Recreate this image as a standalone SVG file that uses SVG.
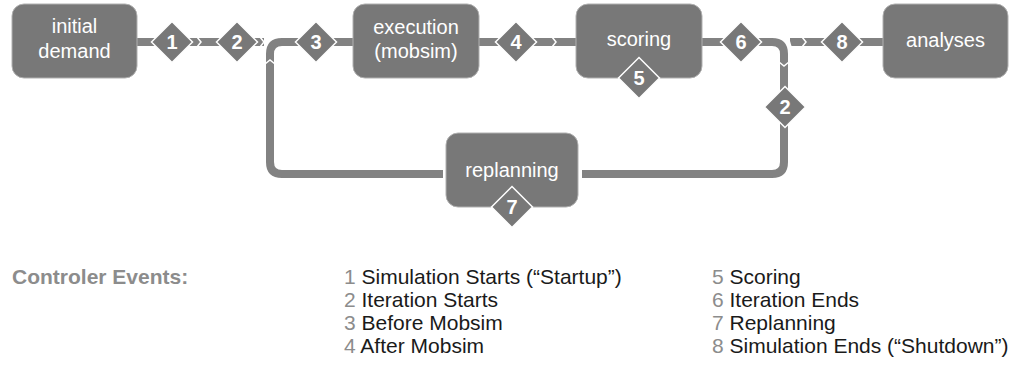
<svg xmlns="http://www.w3.org/2000/svg" width="1011" height="370" viewBox="0 0 1011 370">
<defs>
<style>
.box{fill:#787878;stroke:#b0b0b0;stroke-width:1}
.nt{font-family:"Liberation Sans",Arial,sans-serif;font-size:20px;fill:#ffffff;text-anchor:middle}
.band{fill:none;stroke:#828282;stroke-width:8}
.chev{fill:none;stroke:#ffffff;stroke-width:1.5}
.dia{fill:#787878;stroke:#ffffff;stroke-width:1.5}
.dt{font-family:"Liberation Sans",Arial,sans-serif;font-size:20px;font-weight:bold;fill:#ffffff;text-anchor:middle}
.lg{font-family:"Liberation Sans",Arial,sans-serif;font-size:21px;fill:#1a1a1a}
.ln{fill:#8c8c8c}
.lh{font-family:"Liberation Sans",Arial,sans-serif;font-size:21px;font-weight:bold;fill:#8c8c8c}
</style>
<path id="d" class="dia" d="M0,-20.5 L20.5,0 L0,20.5 L-20.5,0 Z"/>
</defs>
<g id="connectors">
<path class="band" d="M137,42 H264"/>
<path class="band" d="M443,174 H282 Q270,174 270,162 V54 Q270,42 282,42 H353"/>
<path class="band" d="M479,42 H576"/>
<path class="band" d="M702,42 H772 Q784,42 784,54 V162 Q784,174 772,174 H582"/>
<path class="band" d="M790,42 H883"/>
<polyline class="chev" points="197,37 201,42 197,47"/>
<polyline class="chev" points="260,37 264,42 260,47"/>
<polyline class="chev" points="552,37 556,42 552,47"/>
<polyline class="chev" points="802,37 806,42 802,47"/>
<line class="chev" x1="788" y1="37" x2="791" y2="47"/>
<polyline class="chev" points="265,64 270,60 275,64"/>
<polyline class="chev" points="779,62 784,66 789,62"/>
</g>
<g id="initial-demand">
<rect class="box" x="12" y="4" width="125" height="74" rx="12"/>
<text class="nt" x="74.5" y="33">initial</text>
<text class="nt" x="74.5" y="58">demand</text>
</g>
<g id="execution">
<rect class="box" x="353" y="4" width="126" height="74" rx="12"/>
<text class="nt" x="416" y="34">execution</text>
<text class="nt" x="416" y="58">(mobsim)</text>
</g>
<g id="scoring">
<rect class="box" x="576" y="4" width="126" height="74" rx="12"/>
<text class="nt" x="639" y="46">scoring</text>
</g>
<g id="analyses">
<rect class="box" x="883" y="4" width="125" height="74" rx="12"/>
<text class="nt" x="945.5" y="47">analyses</text>
</g>
<g id="replanning">
<rect class="box" x="446" y="133" width="132" height="74" rx="12"/>
<text class="nt" x="512" y="177">replanning</text>
</g>
<g id="event-1"><use href="#d" x="172" y="42"/><text class="dt" x="172" y="49">1</text></g>
<g id="event-2a"><use href="#d" x="237" y="42"/><text class="dt" x="237" y="49">2</text></g>
<g id="event-3"><use href="#d" x="316" y="42"/><text class="dt" x="316" y="49">3</text></g>
<g id="event-4"><use href="#d" x="516" y="42"/><text class="dt" x="516" y="49">4</text></g>
<g id="event-5"><use href="#d" x="639" y="78"/><text class="dt" x="639" y="85">5</text></g>
<g id="event-6"><use href="#d" x="741" y="42"/><text class="dt" x="741" y="49">6</text></g>
<g id="event-2b"><use href="#d" x="785" y="107"/><text class="dt" x="785" y="114">2</text></g>
<g id="event-8"><use href="#d" x="842" y="42"/><text class="dt" x="842" y="49">8</text></g>
<g id="event-7"><use href="#d" x="512" y="207"/><text class="dt" x="512" y="214">7</text></g>
<g id="legend">
<text class="lh" x="12" y="284">Controler Events:</text>
<text class="lg" x="344" y="284"><tspan class="ln">1</tspan> Simulation Starts (“Startup”)</text>
<text class="lg" x="344" y="307"><tspan class="ln">2</tspan> Iteration Starts</text>
<text class="lg" x="344" y="330"><tspan class="ln">3</tspan> Before Mobsim</text>
<text class="lg" x="344" y="353"><tspan class="ln">4</tspan> After Mobsim</text>
<text class="lg" x="712" y="284"><tspan class="ln">5</tspan> Scoring</text>
<text class="lg" x="712" y="307"><tspan class="ln">6</tspan> Iteration Ends</text>
<text class="lg" x="712" y="330"><tspan class="ln">7</tspan> Replanning</text>
<text class="lg" x="712" y="353"><tspan class="ln">8</tspan> Simulation Ends (“Shutdown”)</text>
</g>
</svg>
